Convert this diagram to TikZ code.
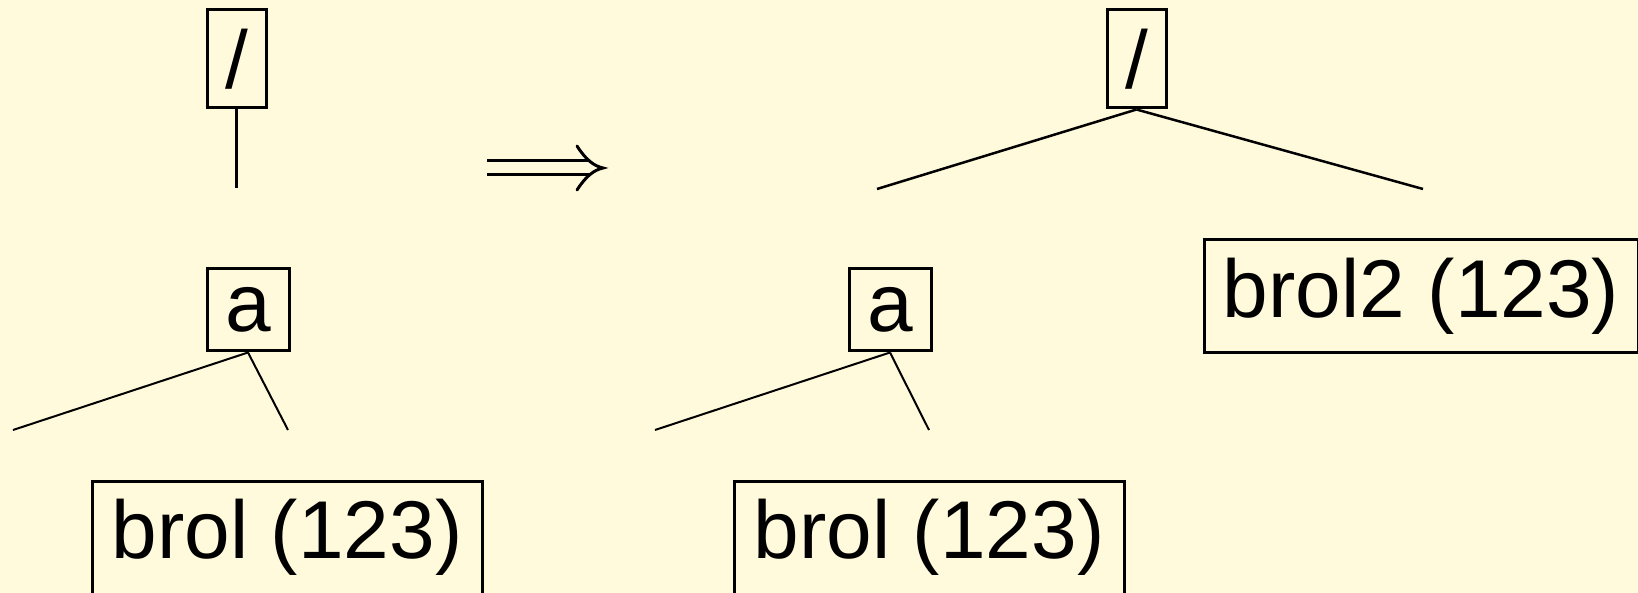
\documentclass[tikz,border=0pt]{standalone}
\usepackage{fontspec}
\setmainfont{Liberation Sans}
\definecolor{paper}{RGB}{255,250,220}
\tikzset{
  tnode/.style={draw=black, line width=3pt, inner sep=0pt, align=center,
    font=\fontsize{82}{98}\selectfont},
  edge/.style={line width=2pt},
}
\begin{document}
\begin{tikzpicture}[x=1pt,y=-1pt]
  \useasboundingbox (0,0) rectangle (1638,593);
  \fill[paper] (0,0) rectangle (1638,593);
  \clip (0,0) rectangle (1638,593);

  % left tree: "/" with a dangling child, then "a"
  \node[tnode, minimum width=59pt, minimum height=98pt] (rootL) at (236.5,59) {/};
  \coordinate (rootLend) at (236.5,188);
  \draw[line width=3.5pt] (rootL.south) -- (rootLend);

  \node[tnode, minimum width=82pt, minimum height=82pt] (aL) at (248,310) {a};
  \coordinate (aLl) at (13,430);
  \coordinate (aLr) at (288,430);
  \draw[edge] (aL.south) -- (aLl);
  \draw[edge] (aL.south) -- (aLr);

  \node[tnode, minimum width=390pt, minimum height=113pt] (brolL) at (287,537.5) {brol (123)};

  % rewrite arrow
  \coordinate (arrA) at (487,161);
  \coordinate (arrB) at (487,175);
  \coordinate (arrTip) at (603,168);
  \coordinate (arrTop) at (577,146);
  \coordinate (arrBot) at (577,190);
  \draw[line width=3pt] (arrA) -- (590,161);
  \draw[line width=3pt] (arrB) -- (590,175);
  \draw[line width=3pt, line cap=round]
    (arrTop) .. controls (586,160) and (594,166) .. (arrTip)
    .. controls (594,170) and (586,176) .. (arrBot);

  % right tree: "/" with two children
  \node[tnode, minimum width=59pt, minimum height=98pt] (rootR) at (1136.5,59) {/};
  \coordinate (rootRl) at (877,189);
  \coordinate (rootRr) at (1423,189);
  \draw[edge, line width=2.5pt] (rootR.south) -- (rootRl);
  \draw[edge, line width=2.5pt] (rootR.south) -- (rootRr);

  \node[tnode, minimum width=82pt, minimum height=82pt] (aR) at (890,310) {a};
  \coordinate (aRl) at (655,430);
  \coordinate (aRr) at (929,430);
  \draw[edge] (aR.south) -- (aRl);
  \draw[edge] (aR.south) -- (aRr);

  \node[tnode, minimum width=390pt, minimum height=113pt] (brolR) at (929,537.5) {brol (123)};

  \node[tnode, minimum width=434pt, minimum height=113pt] (brol2) at (1421,296.5) {brol2 (123)};
\end{tikzpicture}
\end{document}
